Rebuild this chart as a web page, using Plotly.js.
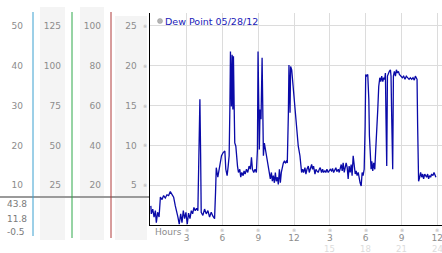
<!DOCTYPE html>
<html>
<head>
<meta charset="utf-8">
<script src="https://cdn.plot.ly/plotly-3.0.1.min.js"></script>
<style>html,body{margin:0;padding:0;background:#fff;}#chart{width:442px;height:253px;}</style>
</head>
<body>
<div id="chart"></div>
<script>
// ---- data (hours since midnight, dew point) ----
const hours = [
0.00,0.04,0.16,0.27,0.38,0.46,0.57,0.69,0.80,0.94,1.07,1.21,1.35,1.49,1.63,1.77,1.91,2.05,2.16,2.27,
2.38,2.50,2.61,2.72,2.83,2.94,3.05,3.16,3.28,3.39,3.50,3.61,3.72,3.83,3.94,4.03,4.11,4.17,4.22,4.36,
4.50,4.64,4.78,4.92,5.06,5.20,5.34,5.42,5.48,5.61,5.75,5.78,5.92,6.06,6.20,6.28,6.39,6.48,6.56,6.62,
6.67,6.75,6.81,6.87,6.92,6.98,7.03,7.12,7.17,7.26,7.34,7.45,7.53,7.62,7.73,7.81,7.90,8.01,8.12,8.23,
8.34,8.43,8.51,8.62,8.73,8.84,8.93,8.98,9.04,9.09,9.15,9.23,9.32,9.37,9.43,9.51,9.60,9.68,9.76,9.85,
9.93,10.01,10.10,10.18,10.26,10.35,10.43,10.51,10.60,10.68,10.77,10.85,10.93,11.02,11.10,11.18,11.27,11.35,11.43,11.52,
11.57,11.66,11.71,11.80,11.94,12.07,12.21,12.35,12.49,12.58,12.63,12.72,12.80,12.91,12.99,13.08,13.19,13.27,13.36,13.47,
13.55,13.63,13.75,13.83,13.91,14.02,14.11,14.19,14.30,14.39,14.47,14.58,14.66,14.75,14.86,14.94,15.03,15.14,15.22,15.31,
15.42,15.50,15.58,15.70,15.78,15.86,15.95,16.03,16.11,16.20,16.28,16.36,16.45,16.53,16.61,16.70,16.78,16.86,16.95,17.03,
17.12,17.20,17.28,17.37,17.45,17.53,17.62,17.70,17.78,17.87,17.95,18.00,18.06,18.17,18.26,18.31,18.40,18.45,18.51,18.59,
18.67,18.76,18.84,18.93,19.01,19.09,19.18,19.26,19.34,19.43,19.51,19.59,19.65,19.70,19.76,19.82,19.90,19.98,20.07,20.12,
20.18,20.26,20.32,20.40,20.49,20.57,20.65,20.74,20.82,20.96,21.07,21.18,21.29,21.40,21.52,21.63,21.74,21.85,21.96,22.07,
22.16,22.24,22.30,22.35,22.43,22.52,22.60,22.69,22.77,22.85,22.94,23.02,23.10,23.19,23.27,23.35,23.44,23.52,23.63,23.72,
23.80,23.88
];
const dewPoint = [
2.4,1.4,2.0,1.0,1.8,0.3,1.6,1.0,3.5,3.2,3.7,3.4,3.8,3.7,4.2,3.8,3.5,2.4,1.8,1.0,
0.1,1.4,0.3,1.8,0.8,1.6,0.1,1.5,0.8,1.8,1.4,2.2,1.8,2.1,1.8,8.9,15.8,8.9,1.6,1.2,
2.0,1.4,1.8,1.0,1.6,1.1,0.8,4.1,7.2,6.0,7.2,7.8,8.7,9.1,9.3,7.0,6.2,7.4,8.7,14.5,
21.8,14.9,21.4,14.5,21.2,14.9,10.3,9.9,8.7,7.4,6.6,7.0,6.0,6.6,6.2,6.8,6.4,7.0,6.6,7.4,
7.0,8.5,7.0,6.6,7.0,6.6,9.5,21.8,15.3,9.5,14.5,13.3,21.0,9.5,8.7,10.3,9.5,8.7,7.8,7.4,
6.6,5.8,6.6,5.5,6.2,5.3,6.6,5.5,6.0,5.1,7.0,5.3,6.6,7.4,7.8,8.0,7.8,8.0,7.8,13.9,
20.1,14.1,19.9,19.5,17.0,14.5,12.0,9.9,8.7,7.4,6.6,7.0,6.6,7.2,6.4,7.0,7.4,6.6,7.2,7.6,
7.0,7.4,6.4,7.0,6.8,6.6,7.0,7.2,6.6,7.0,6.6,6.8,6.6,7.0,6.6,6.8,7.0,6.8,7.1,6.6,
7.0,7.2,6.7,7.0,6.6,7.2,7.6,6.8,7.8,6.6,7.4,7.8,7.2,5.8,7.4,6.6,7.6,6.2,8.7,7.4,
6.4,6.8,6.2,6.6,5.8,5.3,4.9,6.6,6.2,7.0,12.4,18.9,18.7,18.9,15.8,11.2,7.8,7.0,8.0,6.8,
7.8,7.0,9.5,11.6,14.5,17.4,18.5,18.0,18.7,18.0,18.5,18.3,19.1,13.3,7.4,18.7,19.1,19.3,19.5,18.7,
13.3,7.0,18.7,19.3,18.7,19.5,19.1,19.3,18.9,18.7,18.5,18.7,18.3,18.7,18.5,18.3,18.5,18.3,18.5,18.2,
18.7,18.5,18.3,12.4,5.5,6.0,6.6,6.0,6.4,5.8,6.4,6.2,6.0,6.4,5.8,6.2,6.0,6.4,6.2,6.6,
6.2,6.0
];
const seriesName = "Dew Point 05/28/12";
const hourTicks = [3, 6, 9, 12, 15, 18, 21, 24];
const hourLabels = ["3", "6", "9", "12", "3", "6", "9", "12"];
const hour24Labels = ["", "", "", "", "15", "18", "21", "24"];
const mainTicks = [5, 10, 15, 20, 25];
const scaleA = [10, 20, 30, 40, 50];     // first column (x2)
const scaleB = [25, 50, 75, 100, 125];   // second column (x5)
const scaleC = [20, 40, 60, 80, 100];    // third column (x4)
const currentValues = ["43.8", "11.8", "-0.5"];
const hoursLabel = "Hours";

// ---- layout helpers ----
const W = 442, H = 253, T = 13, B = 28;
const plotBottom = H - B, plotH = H - T - B;
const px = v => v / W;                       // pixel x -> paper
const py = v => (plotBottom - v) / plotH;    // pixel y -> paper
const yMax = 26.63;
const tickFont = {family: "DejaVu Sans", size: 9, color: "#8c8c8c"};

const traces = [
  {x: hours, y: dewPoint, type: "scatter", mode: "lines",
   line: {color: "#0a0aa8", width: 1.3}, hoverinfo: "skip", showlegend: false},
  {x: [], y: [], yaxis: "y2", type: "scatter", showlegend: false},
  {x: [], y: [], yaxis: "y3", type: "scatter", showlegend: false},
  {x: [], y: [], yaxis: "y4", type: "scatter", showlegend: false}
];

function sideAxis(ticks, factor, posPx) {
  return {
    overlaying: "y", anchor: "free", side: "left", position: px(posPx),
    range: [0, yMax * factor], tickvals: ticks, ticktext: ticks.map(String),
    showgrid: false, zeroline: false, showline: false, ticks: "",
    tickfont: tickFont, ticklabelstandoff: 0
  };
}

const shapes = [
  {type: "rect", xref: "paper", yref: "paper", x0: px(40), x1: px(65), y0: py(240), y1: py(7), fillcolor: "#f4f4f4", line: {width: 0}, layer: "below"},
  {type: "rect", xref: "paper", yref: "paper", x0: px(80), x1: px(104), y0: py(240), y1: py(7), fillcolor: "#f4f4f4", line: {width: 0}, layer: "below"},
  {type: "rect", xref: "paper", yref: "paper", x0: px(115), x1: px(147), y0: py(240), y1: py(16), fillcolor: "#f4f4f4", line: {width: 0}, layer: "below"},
  {type: "line", xref: "paper", yref: "paper", x0: px(0), x1: px(149), y0: py(197), y1: py(197), line: {color: "#9a9a9a", width: 2}},
  {type: "line", xref: "paper", yref: "paper", x0: px(33), x1: px(33), y0: py(236), y1: py(12), line: {color: "#3aa0d0", width: 1}},
  {type: "line", xref: "paper", yref: "paper", x0: px(72), x1: px(72), y0: py(238), y1: py(12), line: {color: "#2ea84a", width: 1}},
  {type: "line", xref: "paper", yref: "paper", x0: px(111), x1: px(111), y0: py(238), y1: py(12), line: {color: "#b03a3a", width: 1}},
  {type: "circle", xref: "paper", yref: "paper", x0: px(157.5), x1: px(162.5), y0: py(23.5), y1: py(18.5), fillcolor: "#b4b4b4", line: {color: "#999", width: 0.5}}
];

const glyph = "※";
const annotations = [];
annotations.push({xref: "paper", yref: "paper", x: px(163), y: py(21), xanchor: "left", yanchor: "middle",
  text: seriesName, showarrow: false, font: {family: "DejaVu Sans", size: 9.5, color: "#1a1ab8"}});
annotations.push({xref: "paper", yref: "paper", x: px(153), y: py(231.5), xanchor: "left", yanchor: "middle",
  text: hoursLabel, showarrow: false, font: tickFont});
const valueRows = [204, 218.5, 232];
currentValues.forEach((t, i) => annotations.push({xref: "paper", yref: "paper", x: px(5), y: py(valueRows[i]),
  xanchor: "left", yanchor: "middle", text: t, showarrow: false, font: {family: "DejaVu Sans", size: 9, color: "#7a7a7a"}}));
mainTicks.forEach(v => annotations.push({xref: "paper", yref: "y", x: px(145), y: v, xanchor: "center", yanchor: "middle",
  text: glyph, showarrow: false, font: {family: "DejaVu Sans", size: 5, color: "#b0b0b0"}}));
hourTicks.forEach((h, i) => {
  annotations.push({xref: "x", yref: "paper", x: h, y: py(230), xanchor: "center", yanchor: "middle",
    text: glyph, showarrow: false, font: {family: "DejaVu Sans", size: 5, color: "#b0b0b0"}});
  if (hour24Labels[i]) annotations.push({xref: "x", yref: "paper", x: h, y: py(248.5), xanchor: "center", yanchor: "middle",
    text: hour24Labels[i], showarrow: false, font: {family: "DejaVu Sans", size: 8.5, color: "#dcdcdc"}});
});

const layout = {
  width: W, height: H,
  margin: {l: 0, r: 0, t: T, b: B, pad: 0},
  paper_bgcolor: "#fff", plot_bgcolor: "#fff",
  showlegend: false,
  xaxis: {domain: [px(150), 1], range: [-0.07, 24.39], tickvals: hourTicks, ticktext: hourLabels,
    showgrid: true, gridcolor: "#dcdcdc", gridwidth: 1, zeroline: false,
    showline: true, linecolor: "#000", linewidth: 1, ticks: "", tickfont: tickFont,
    ticklabelstandoff: 4, ticklabeloverflow: "allow"},
  yaxis: {range: [0, yMax], tickvals: mainTicks, ticktext: mainTicks.map(String),
    showgrid: true, gridcolor: "#dcdcdc", gridwidth: 1, zeroline: false,
    showline: true, linecolor: "#000", linewidth: 1.5, ticks: "", tickfont: tickFont, ticklabelstandoff: 10},
  yaxis2: sideAxis(scaleA, 2, 23),
  yaxis3: sideAxis(scaleB, 5, 61),
  yaxis4: sideAxis(scaleC, 4, 101),
  shapes: shapes,
  annotations: annotations
};

Plotly.newPlot("chart", traces, layout, {displayModeBar: false, staticPlot: true});
</script>
</body>
</html>
